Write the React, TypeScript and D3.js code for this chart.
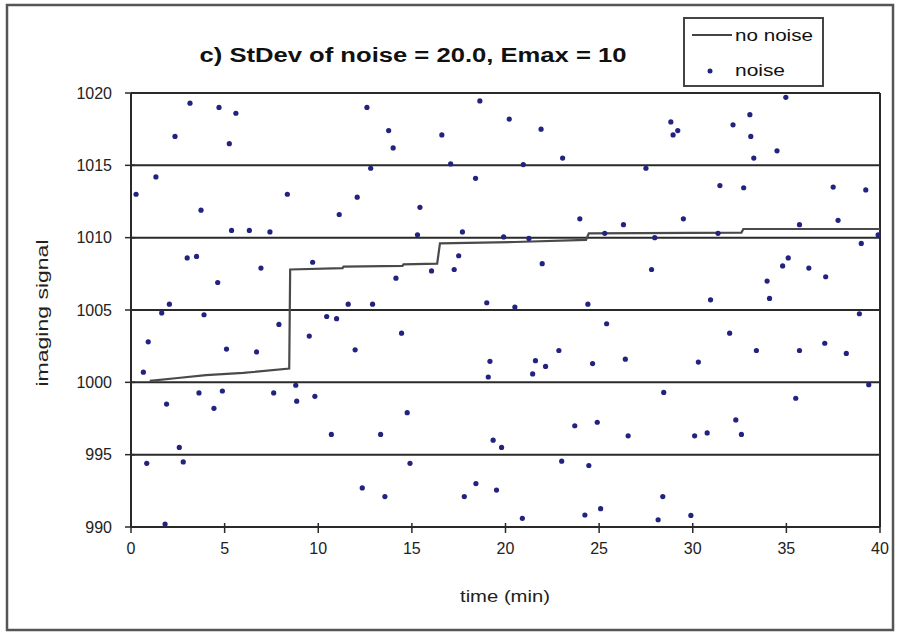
import React from "react";
import * as d3 from "d3";

const noiseTime: number[] = [
  3.15, 4.7, 5.6, 2.35, 5.25, 12.6, 1.33, 0.27, 3.74, 8.35, 12.08, 11.12, 5.37, 6.32, 7.42, 3.0, 3.5, 6.94, 4.63, 9.7,
  2.05, 11.6, 18.63, 20.2, 21.9, 13.76, 16.6, 14.0, 23.05, 12.8, 17.07, 20.95, 18.4, 15.43, 23.97, 26.3, 15.3, 17.7, 19.9, 21.25,
  25.3, 17.5, 21.96, 16.05, 17.26, 14.15, 12.9, 19.0, 20.5, 24.4, 34.97, 28.83, 29.2, 28.95, 33.05, 32.15, 33.1, 34.5, 33.26, 27.5,
  31.45, 32.72, 37.5, 39.24, 29.5, 35.7, 37.76, 27.97, 31.35, 39.0, 35.1, 34.8, 36.2, 37.1, 27.8, 33.97, 34.1, 30.95, 39.9, 1.64,
  3.9, 7.9, 0.92, 5.1, 6.7, 9.52, 10.45, 10.98, 11.97, 0.66, 8.8, 3.63, 4.88, 7.62, 8.85, 9.82, 1.9, 4.43, 10.7, 2.58,
  0.84, 2.79, 12.35, 1.82, 14.45, 25.4, 22.85, 19.17, 21.6, 22.14, 24.65, 26.4, 19.08, 21.45, 14.75, 13.33, 19.34, 19.79, 23.7, 24.9,
  26.55, 14.9, 23.0, 24.45, 13.56, 18.42, 17.8, 19.52, 25.08, 24.24, 20.9, 38.9, 31.97, 30.3, 33.4, 35.7, 37.05, 38.2, 39.4, 28.45,
  35.5, 32.3, 30.1, 30.77, 32.6, 28.4, 28.15, 29.9,
];
const noiseValue: number[] = [
  1019.3, 1019.0, 1018.6, 1017.0, 1016.5, 1019.0, 1014.2, 1013.0, 1011.9, 1013.0, 1012.8, 1011.6, 1010.5, 1010.5, 1010.4, 1008.6, 1008.7, 1007.9, 1006.9, 1008.3,
  1005.4, 1005.4, 1019.45, 1018.2, 1017.5, 1017.4, 1017.1, 1016.2, 1015.5, 1014.8, 1015.1, 1015.05, 1014.1, 1012.1, 1011.3, 1010.9, 1010.2, 1010.4, 1010.05, 1009.95,
  1010.3, 1008.75, 1008.2, 1007.7, 1007.8, 1007.2, 1005.4, 1005.5, 1005.2, 1005.4, 1019.7, 1018.0, 1017.4, 1017.1, 1018.5, 1017.8, 1017.0, 1016.0, 1015.5, 1014.8,
  1013.6, 1013.45, 1013.5, 1013.3, 1011.3, 1010.9, 1011.2, 1010.0, 1010.3, 1009.6, 1008.6, 1008.05, 1007.9, 1007.3, 1007.8, 1007.0, 1005.8, 1005.7, 1010.2, 1004.8,
  1004.67, 1004.0, 1002.8, 1002.3, 1002.1, 1003.2, 1004.55, 1004.4, 1002.25, 1000.7, 999.8, 999.27, 999.4, 999.27, 998.7, 999.03, 998.5, 998.2, 996.4, 995.5,
  994.4, 994.5, 992.7, 990.2, 1003.4, 1004.05, 1002.2, 1001.45, 1001.5, 1001.1, 1001.3, 1001.6, 1000.37, 1000.58, 997.9, 996.4, 996.0, 995.5, 997.0, 997.24,
  996.3, 994.4, 994.55, 994.25, 992.1, 993.0, 992.1, 992.55, 991.27, 990.83, 990.6, 1004.74, 1003.4, 1001.4, 1002.2, 1002.2, 1002.7, 1002.0, 999.84, 999.3,
  998.9, 997.4, 996.3, 996.5, 996.4, 992.1, 990.5, 990.8,
];

const lineTime: number[] = [1.0, 2.5, 4.0, 6.0, 8.45, 8.5, 11.3, 11.35, 14.5, 14.55, 16.35, 16.5, 20.5, 24.3, 24.45, 32.6, 32.7, 40];
const lineValue: number[] = [1000.1, 1000.3, 1000.5, 1000.65, 1000.95, 1007.8, 1007.9, 1008.0, 1008.05, 1008.15, 1008.2, 1009.6, 1009.7, 1009.85, 1010.3, 1010.35, 1010.6, 1010.6];

const xTicks: number[] = [0, 5, 10, 15, 20, 25, 30, 35, 40];
const yTicks: number[] = [990, 995, 1000, 1005, 1010, 1015, 1020];

const titleText = "c) StDev of noise = 20.0, Emax = 10";
const xLabel = "time (min)";
const yLabel = "imaging signal";
const legendLine = "no noise";
const legendDots = "noise";

export default function App() {
  const x = d3.scaleLinear().domain([0, 40]).range([131, 880]);
  const y = d3.scaleLinear().domain([990, 1020]).range([527, 93]);
  const line = d3
    .line<number>()
    .x((_, i) => x(lineTime[i]))
    .y((_, i) => y(lineValue[i]));
  const font = "'Liberation Sans', Arial, sans-serif";
  const ink = "#2a2a2a";
  return (
    <svg
      width={898}
      height={635}
      style={{ position: "absolute", left: 0, top: 0, background: "#fff" }}
      fontFamily={font}
    >
      <rect x={0} y={0} width={898} height={635} fill="#fff" />
      <rect x={7} y={5} width={886} height={625} fill="none" stroke="#555" strokeWidth={2.5} />
      <text x={413} y={62} fontSize={20} fontWeight="bold" textAnchor="middle" textLength={427} lengthAdjust="spacingAndGlyphs" fill="#111">
        {titleText}
      </text>
      {/* legend */}
      <rect x={684} y={18} width={139} height={68} fill="#fff" stroke="#444" strokeWidth={2} />
      <line x1={692} x2={732} y1={35} y2={35} stroke="#444" strokeWidth={2} />
      <text x={735} y={41} fontSize={16} textLength={78} lengthAdjust="spacingAndGlyphs" fill="#111">
        {legendLine}
      </text>
      <circle cx={710} cy={71} r={2.5} fill="#23237f" />
      <text x={735} y={76} fontSize={16} textLength={50} lengthAdjust="spacingAndGlyphs" fill="#111">
        {legendDots}
      </text>
      {/* gridlines */}
      {yTicks.filter((t) => t > 990).map((t) => (
        <line key={"g" + t} x1={x(0)} x2={x(40)} y1={y(t)} y2={y(t)} stroke={ink} strokeWidth={2} />
      ))}
      <line x1={x(40)} x2={x(40)} y1={y(1020)} y2={y(990)} stroke={ink} strokeWidth={2} />
      {/* axes */}
      <line x1={x(0)} x2={x(0)} y1={y(1020)} y2={y(990)} stroke={ink} strokeWidth={2} />
      <line x1={x(0)} x2={x(40)} y1={y(990)} y2={y(990)} stroke={ink} strokeWidth={2} />
      {yTicks.map((t) => (
        <g key={"y" + t}>
          <line x1={x(0) - 6} x2={x(0) + 4} y1={y(t)} y2={y(t)} stroke={ink} strokeWidth={1.5} />
          <text x={112} y={y(t) + 5.5} fontSize={16} textAnchor="end" fill="#222">
            {t}
          </text>
        </g>
      ))}
      {xTicks.map((t) => (
        <g key={"x" + t}>
          <line x1={x(t)} x2={x(t)} y1={y(990) - 4} y2={y(990) + 6} stroke={ink} strokeWidth={1.5} />
          <text x={x(t)} y={554} fontSize={16} textAnchor="middle" fill="#222">
            {t}
          </text>
        </g>
      ))}
      <text x={505} y={602} fontSize={17} textAnchor="middle" textLength={90} lengthAdjust="spacingAndGlyphs" fill="#222">
        {xLabel}
      </text>
      <text
        transform="translate(48,313) rotate(-90)"
        fontSize={16}
        textAnchor="middle"
        textLength={147}
        lengthAdjust="spacingAndGlyphs"
        fill="#222"
      >
        {yLabel}
      </text>
      {/* step line */}
      <path d={line(lineTime) || ""} fill="none" stroke="#4a4a4a" strokeWidth={2.2} />
      {/* noise points */}
      {noiseTime.map((t, i) => (
        <circle key={"p" + i} cx={x(t)} cy={y(noiseValue[i])} r={2.6} fill="#23237f" />
      ))}
    </svg>
  );
}
